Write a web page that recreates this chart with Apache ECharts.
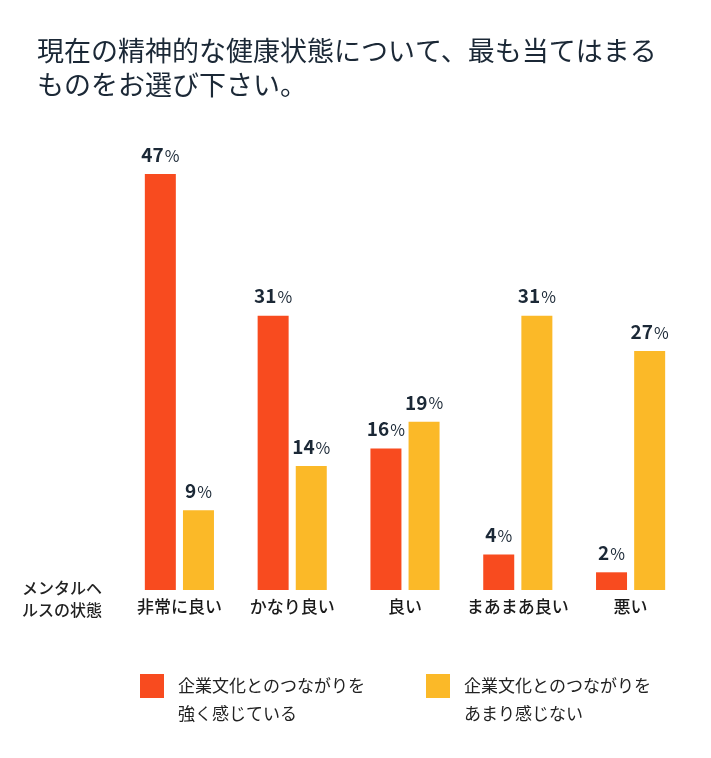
<!DOCTYPE html>
<html><head><meta charset="utf-8">
<script src="https://cdn.jsdelivr.net/npm/echarts@6/dist/echarts.min.js"></script>
<style>html,body{margin:0;padding:0;background:#fff}#c{width:711px;height:758px}</style>
</head><body><div id="c"></div>
<script>
var categories = ['非常に良い', 'かなり良い', '良い', 'まあまあ良い', '悪い'];
var strongValues = [47, 31, 16, 4, 2];
var weakValues = [9, 14, 19, 31, 27];
var seriesNames = ['企業文化とのつながりを\n強く感じている', '企業文化とのつながりを\nあまり感じない'];
var titleText = '現在の精神的な健康状態について、最も当てはまる\nものをお選び下さい。';
var axisTitle = 'メンタルヘ\nルスの状態';

var FONT = '"Noto Sans CJK JP", "Noto Sans", sans-serif';
var DARK = '#1b2836';
var chart = echarts.init(document.getElementById('c'), null, {renderer: 'canvas'});
var labelCfg = {
  show: true, position: 'top', distance: 10,
  formatter: function (p) { return '{n|' + p.value + '}{p|%}'; },
  rich: {
    n: {fontFamily: FONT, fontSize: 19, fontWeight: 'bold', color: DARK},
    p: {fontFamily: FONT, fontSize: 16, fontWeight: 'normal', color: DARK, padding: [2, 0, 0, 1]}
  }
};
chart.setOption({
  animation: false,
  backgroundColor: '#fff',
  title: {
    text: titleText, left: 32, top: 29,
    textStyle: {fontFamily: FONT, fontSize: 27, fontWeight: 'normal', color: DARK, lineHeight: 34}
  },
  grid: {left: 123, right: 24, top: 147.5, bottom: 168},
  xAxis: {
    type: 'category', data: categories,
    axisLine: {show: false}, axisTick: {show: false},
    axisLabel: {interval: 0, fontFamily: FONT, fontSize: 17, color: '#1a1a1a', margin: 8, fontWeight: 500}
  },
  yAxis: {type: 'value', min: 0, max: 50, show: false, splitLine: {show: false}},
  legend: {
    left: 135, top: 667, itemWidth: 24, itemHeight: 52, itemGap: 61,
    icon: 'path://M0,0H24V24H0Z M0,52L0.01,52',
    textStyle: {fontFamily: FONT, fontSize: 17, color: '#222', lineHeight: 28, padding: [0, 0, 0, 9]}
  },
  graphic: [{
    type: 'text', left: 22, top: 577,
    style: {text: axisTitle, fontFamily: FONT, fontSize: 16, fontWeight: 500, fill: '#222', lineHeight: 22}
  }],
  series: [
    {name: seriesNames[0], type: 'bar', data: strongValues, barWidth: 31, barGap: '23%',
     itemStyle: {color: '#F84B1F'}, label: labelCfg},
    {name: seriesNames[1], type: 'bar', data: weakValues, barWidth: 31,
     itemStyle: {color: '#FBB928'}, label: labelCfg}
  ]
});
</script></body></html>
